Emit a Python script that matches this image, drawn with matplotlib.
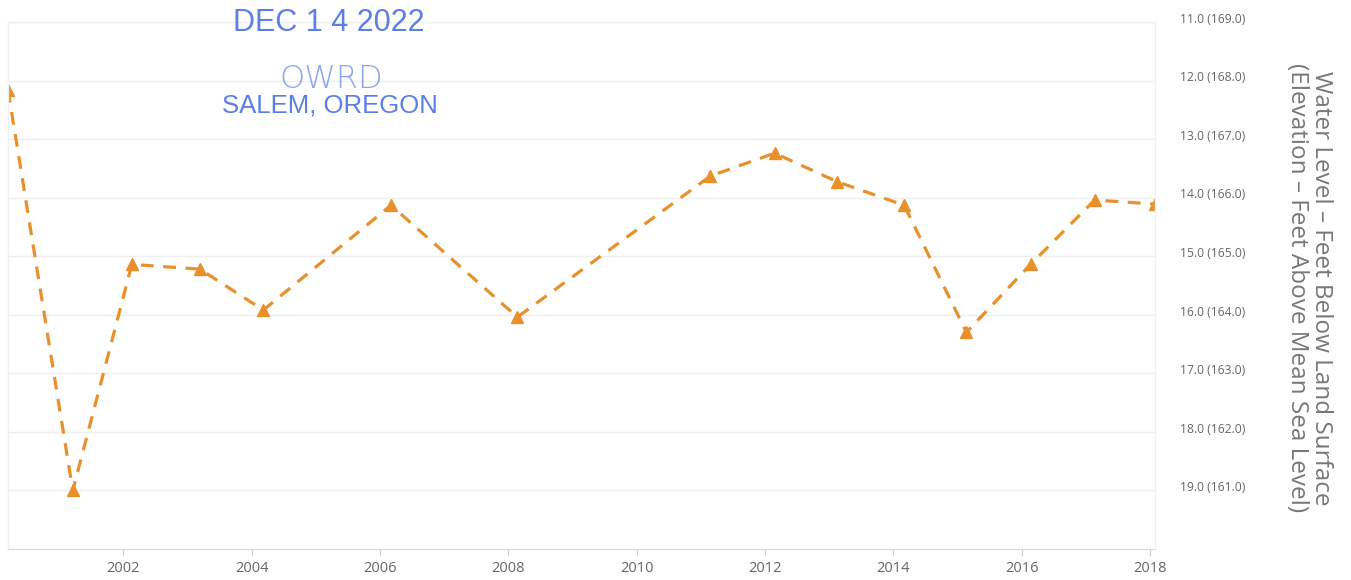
import matplotlib
matplotlib.use("Agg")
import matplotlib.pyplot as plt
from matplotlib.transforms import ScaledTranslation
from matplotlib import font_manager

# ---- data ----
years = [2000.20, 2001.21, 2002.13, 2003.19, 2004.18, 2006.17, 2008.14,
         2011.15, 2012.15, 2013.13, 2014.17, 2015.14, 2016.14, 2017.14, 2018.08]
depth_ft = [12.16, 19.0, 15.14, 15.22, 15.92, 14.13, 16.04,
            13.63, 13.24, 13.73, 14.13, 16.30, 15.14, 14.04, 14.11]
land_surface_elev = 180.0
y_ticks = [11, 12, 13, 14, 15, 16, 17, 18, 19]
x_ticks = [2002, 2004, 2006, 2008, 2010, 2012, 2014, 2016, 2018]
y_title = "Water Level – Feet Below Land Surface\n(Elevation – Feet Above Mean Sea Level)"
stamp_date = "DEC 1 4 2022"
stamp_org = "OWRD"
stamp_city = "SALEM, OREGON"

available = {f.name for f in font_manager.fontManager.ttflist}
base_font = "Open Sans" if "Open Sans" in available else "DejaVu Sans"
plt.rcParams['font.family'] = [base_font, 'DejaVu Sans']

W, H = 1351, 580
fig = plt.figure(figsize=(W / 100, H / 100), dpi=100)
L, R, T, B = 8, 1155, 22, 549
ax = fig.add_axes([L / W, 1 - B / H, (R - L) / W, (B - T) / H])

orange = "#E8902C"
ax.plot(years, depth_ft, color=orange, linestyle=(0, (4, 3)), linewidth=2.3,
        marker="^", markersize=9, markerfacecolor=orange, markeredgecolor=orange)

ax.set_xlim(years[0], years[-1])
ax.set_ylim(20, 11)
ax.set_xticks(x_ticks)
ax.set_xticklabels([str(x) for x in x_ticks])
ax.set_yticks(y_ticks)
ax.set_yticklabels([f"{v:.1f} ({land_surface_elev - v:.1f})" for v in y_ticks])

ax.yaxis.tick_right()
ax.tick_params(axis="y", length=0, pad=18, labelsize=8.7, labelcolor="#666666")
ax.tick_params(axis="x", length=5, width=0.8, color="#d0d0d8", pad=4,
               labelsize=10.5, labelcolor="#666666")
off = ScaledTranslation(0, 3 / 72, fig.dpi_scale_trans)
for lbl in ax.get_yticklabels():
    lbl.set_transform(lbl.get_transform() + off)

ax.grid(axis="y", color="#efefef", linewidth=1)
ax.grid(axis="x", visible=False)
for s in ["top", "left", "right"]:
    ax.spines[s].set_color("#f0f0f0")
    ax.spines[s].set_linewidth(1)
ax.spines["bottom"].set_color("#d8d8e0")

fig.text(1309 / W, 1 - 288 / H, y_title, rotation=270, fontsize=17.5,
         color="#777777", ha="center", va="center", linespacing=1.0,
         multialignment="center")

stamp_blue = "#5B7FE6"
fig.text(329 / W, 1 - 23 / H, stamp_date, fontsize=22, color=stamp_blue,
         family=['Liberation Sans', 'DejaVu Sans'], ha="center", va="center")
fig.text(331 / W, 1 - 79 / H, stamp_org, fontsize=23, color=stamp_blue, alpha=0.7,
         family=['DejaVu Sans'], ha="center", va="center", fontweight="light")
fig.text(330 / W, 1 - 106 / H, stamp_city, fontsize=18.5, color=stamp_blue,
         family=['Liberation Sans', 'DejaVu Sans'], ha="center", va="center")

fig.savefig("out.png", dpi=100, facecolor="white")
